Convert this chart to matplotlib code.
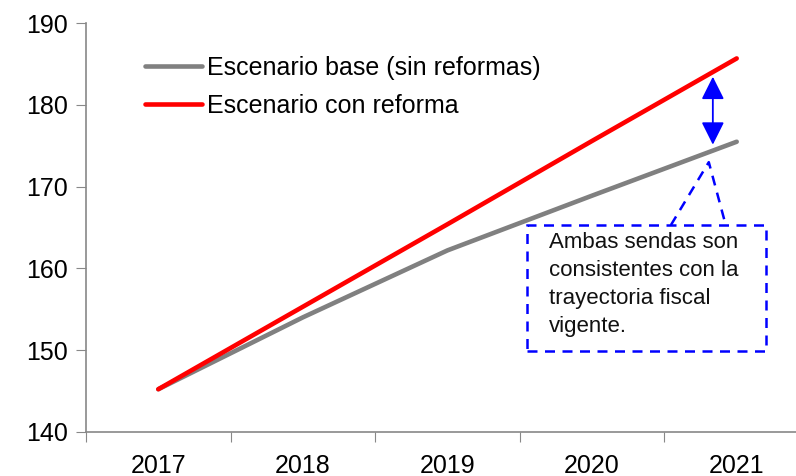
import matplotlib
matplotlib.use("Agg")
import matplotlib.pyplot as plt
from matplotlib.patches import Rectangle, FancyArrowPatch

years = ["2017", "2018", "2019", "2020", "2021"]
base = [145.2, 154.0, 162.2, 168.9, 175.5]
reforma = [145.2, 155.3, 165.4, 175.6, 185.7]
label_base = "Escenario base (sin reformas)"
label_ref = "Escenario con reforma"
note = "Ambas sendas son\nconsistentes con la\ntrayectoria fiscal\nvigente."

plt.rcParams['font.family'] = ['Liberation Sans', 'DejaVu Sans']

fig = plt.figure(figsize=(7.96, 4.76), dpi=100)
ax = fig.add_axes([86/796, 1-431.7/476, (809-86)/796, (431.7-23.3)/476])

x = list(range(len(years)))
ax.plot(x, base, color="#808080", lw=3.3, solid_capstyle="round", label=label_base, zorder=3)
ax.plot(x, reforma, color="#FF0000", lw=3.3, solid_capstyle="round", label=label_ref, zorder=4)

ax.set_xlim(-0.5, 4.5)
ax.set_ylim(140, 190)
ax.set_yticks([140, 150, 160, 170, 180, 190])
ax.set_xticks([i + 0.5 for i in range(-1, 4)])
ax.set_xticklabels([])
ax.set_xticks(x, minor=True)
ax.set_xticklabels(years, minor=True)
ax.tick_params(axis="x", which="minor", length=0, pad=16, labelsize=18)
ax.tick_params(axis="x", which="major", length=7, color="#888888", direction="out")
ax.tick_params(axis="y", length=7, color="#888888", labelsize=18, pad=6)

for s in ["top", "right"]:
    ax.spines[s].set_visible(False)
for s in ["left", "bottom"]:
    ax.spines[s].set_color("#888888")
    ax.spines[s].set_linewidth(1.2)

leg = ax.legend(loc="upper left", bbox_to_anchor=(0.068, 0.944), frameon=False,
                fontsize=18, handlelength=2.28, handletextpad=0.2, labelspacing=0.56,
                borderaxespad=0)

# Double-headed arrow between the scenarios
arr = FancyArrowPatch((3.835, 183.8), (3.835, 174.8), arrowstyle="<|-|>,head_length=0.7,head_width=0.35",
                      color="#0000FF", lw=1.3, mutation_scale=20, zorder=5)
ax.add_patch(arr)

# Dashed callout box
box = Rectangle((2.552, 149.9), 4.2 - 2.552, 165.3 - 149.9, fill=False,
                edgecolor="#0000FF", lw=1.8, linestyle=(0, (4, 3)), zorder=5, clip_on=False)
ax.add_patch(box)
ax.plot([3.545, 3.807, 3.924], [165.3, 173.0, 165.3], color="#0000FF", lw=1.8,
        linestyle=(0, (4, 3)), zorder=5)
ax.text(2.70, 164.4, note, fontsize=16, va="top", ha="left", linespacing=1.42, color="#111111")

fig.savefig("out.png", dpi=100)
